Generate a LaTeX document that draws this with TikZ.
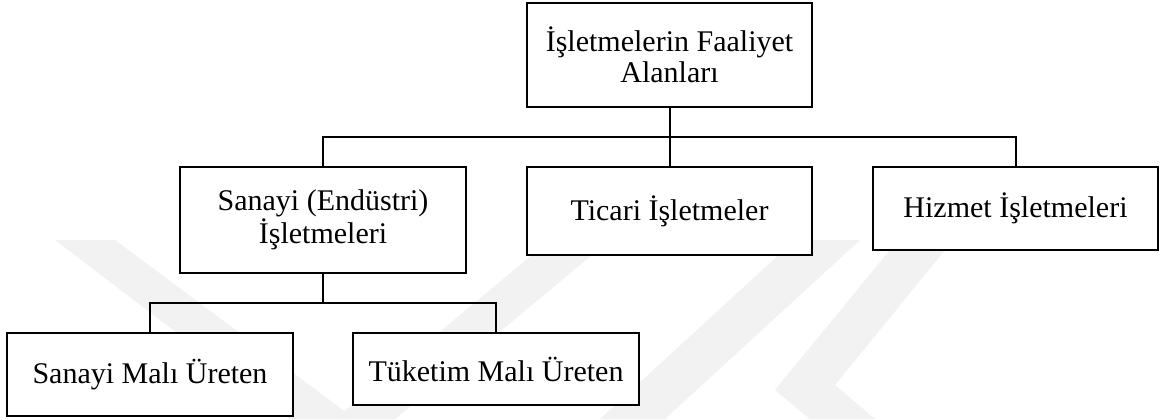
\documentclass[tikz,border=0pt]{standalone}
\usepackage{fontspec}
\setmainfont{Liberation Serif}
\definecolor{wm}{gray}{0.95}
\begin{document}
\begin{tikzpicture}[x=0.75pt,y=-0.75pt,
  box/.style={draw=black,line width=1.1pt,fill=white,inner sep=0pt,align=center,
    font=\fontsize{22.5}{23}\selectfont},
  conn/.style={line width=1.5pt,black}]
\useasboundingbox (0,0) rectangle (1160,419);
\fill[white] (0,0) rectangle (1160,419);
% watermark bands
\fill[wm] (55,240) -- (115,240) -- (355,419) -- (290,419) -- cycle;
\fill[wm] (335,419) -- (395,419) -- (610,240) -- (550,240) -- cycle;
\fill[wm] (600,419) -- (665,419) -- (860,240) -- (795,240) -- cycle;
\fill[wm] (890,250) -- (945,250) -- (835,385) -- (875,419) -- (810,419) -- (775,390) -- cycle;
% nodes
\node[box,minimum width=213.75pt,minimum height=78pt] (top) at (669.5,55) {İşletmelerin Faaliyet\\Alanları};
\node[box,minimum width=214.5pt,minimum height=79.5pt] (sanayi) at (323,220) {Sanayi (Endüstri)\\İşletmeleri};
\node[box,minimum width=213.75pt,minimum height=66pt] (ticari) at (669.5,211) {Ticari İşletmeler};
\node[box,minimum width=213.75pt,minimum height=62.25pt] (hizmet) at (1015.5,208.5) {Hizmet İşletmeleri};
\node[box,minimum width=214.5pt,minimum height=62.25pt] (mali) at (150,374.5) {Sanayi Malı Üreten};
\node[box,minimum width=214.5pt,minimum height=54pt] (tuketim) at (496,369) {Tüketim Malı Üreten};
\coordinate (bus1) at (670,137);
\coordinate (bus2) at (323,303);
% connectors
\draw[conn] (top.south) -- (ticari.north);
\draw[conn] (sanayi.north) -- (sanayi.north |- bus1) -- (hizmet.north |- bus1) -- (hizmet.north);
\draw[conn] (sanayi.south) -- (bus2);
\draw[conn] (mali.north) -- (mali.north |- bus2) -- (tuketim.north |- bus2) -- (tuketim.north);
\end{tikzpicture}
\end{document}
